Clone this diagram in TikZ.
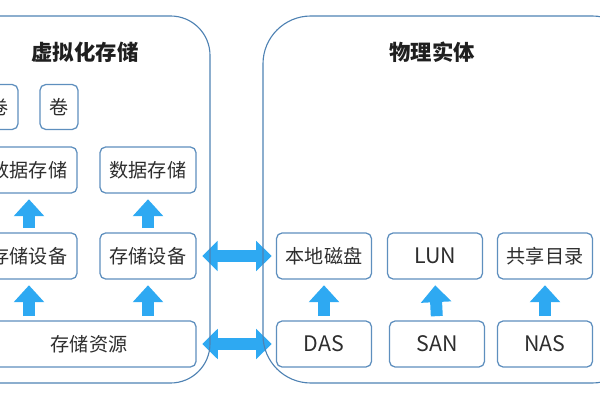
\documentclass[tikz,border=0pt]{standalone}
\usepackage{fontspec}
\setmainfont{Noto Sans CJK SC}
\usetikzlibrary{arrows.meta}

\definecolor{VSFrame}{HTML}{4F82B3}
\definecolor{VSBox}{HTML}{5E8FBE}
\definecolor{VSArrow}{HTML}{2EA9F2}

\begin{document}
\begin{tikzpicture}[
    x=0.025cm,
    y=-0.025cm,
    font=\fontsize{13.6}{16}\selectfont,
    panel/.style={draw=VSFrame, line width=0.8pt, rounded corners=28pt},
    title/.style={font=\fontsize{15.2}{18}\selectfont\bfseries, text=black!88},
    unit/.style={draw=VSBox, fill=white, rounded corners=4pt, line width=0.9pt,
                 minimum width=2.4cm, minimum height=1.15cm, inner sep=0pt,
                 text=black!82},
    vol/.style={unit, minimum width=0.95cm, minimum height=1.12cm},
    phys/.style={unit, minimum width=2.375cm},
    latin/.style={phys, font=\fontsize{15.2}{18}\selectfont},
    uparrow/.style={draw=VSArrow, line width=8.5pt,
                    -{Triangle[width=21pt,length=12pt]},
                    shorten <=3pt, shorten >=4pt},
    link/.style={draw=VSArrow, line width=9pt,
                 {Triangle[width=21pt,length=11pt]}-{Triangle[width=21pt,length=11pt]},
                 shorten <=4pt, shorten >=3pt}
]
\useasboundingbox (0,0) rectangle (600,400);
\clip (0,0) rectangle (600,400);

\node[title] (vtitle) at (85,52) {虚拟化存储};
\node[title] (ptitle) at (432,52) {物理实体};

% Virtual storage side.
\node[vol] (vol1) at (-1,107) {卷};
\node[vol] (vol2) at (59,107) {卷};

\node[unit] (data1) at (29,170) {数据存储};
\node[unit] (data2) at (148,170) {数据存储};
\node[unit] (dev1) at (29,256) {存储设备};
\node[unit] (dev2) at (148,256) {存储设备};
\node[unit, minimum width=5.35cm] (res) at (89,344) {存储资源};

\foreach \c in {1,2} {
    \draw[uparrow] (dev\c.north) -- (data\c.south);
    \draw[uparrow] (res.north -| dev\c) -- (dev\c.south);
}

% Physical side.
\node[phys] (disk) at (324,256) {本地磁盘};
\node[latin] (lun) at (435,256) {LUN};
\node[phys] (share) at (545,256) {共享目录};
\node[latin] (das) at (324,344) {DAS};
\node[latin] (san) at (437,344) {SAN};
\node[latin] (nas) at (545,344) {NAS};

\foreach \a/\b in {das/disk,san/lun,nas/share} {
    \draw[uparrow] (\a.north) -- (\b.south);
}

% Links between the two panels.
\draw[link] (dev2.east) -- (disk.west);
\draw[link] (res.east) -- (das.west);

% Panel frames go last, so they cross the links; both are cropped at the border.
\draw[panel] (-40,16) rectangle (210,383);
\draw[panel, rounded corners=34pt] (263,16) rectangle (640,383);
\end{tikzpicture}
\end{document}
